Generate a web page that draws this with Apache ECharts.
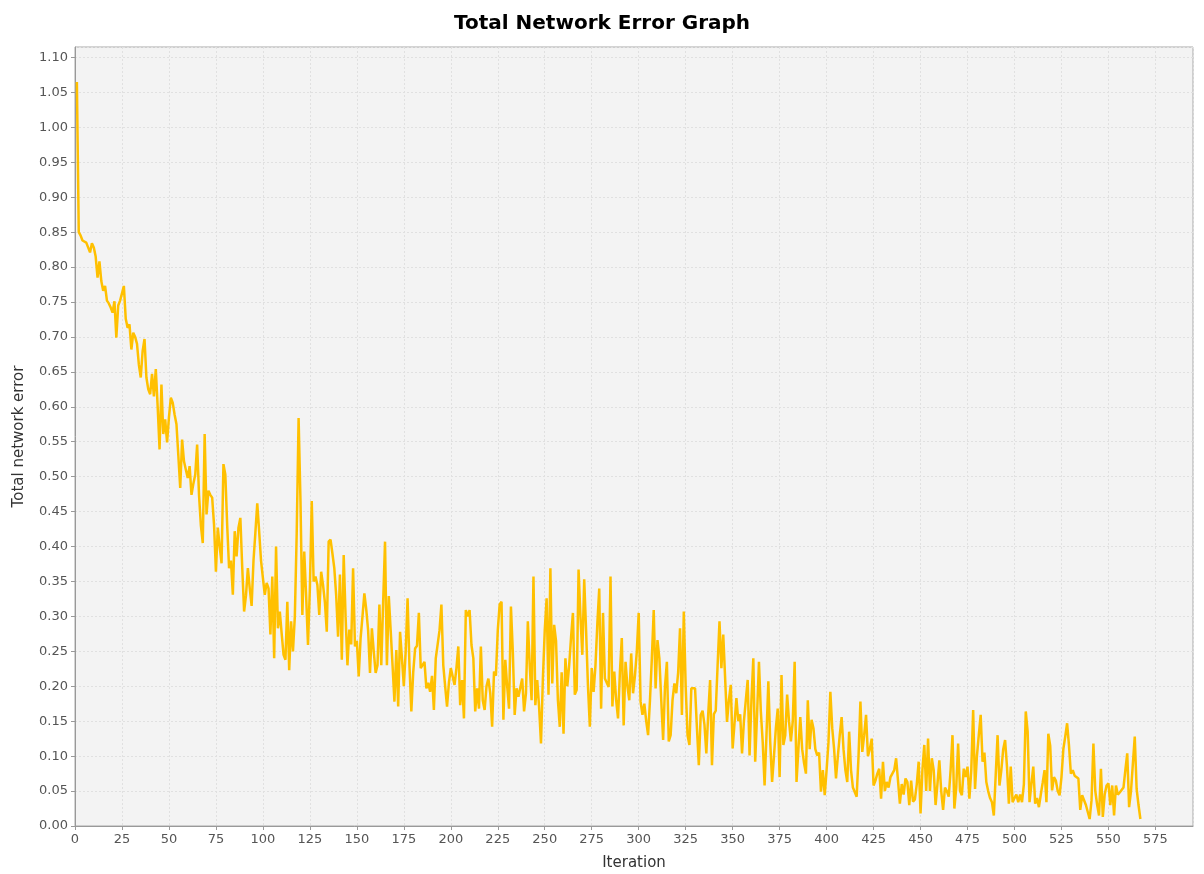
<!DOCTYPE html>
<html>
<head>
	<meta charset="UTF-8">
	<title>Total Network Error Graph</title>
	<script src="https://cdn.jsdelivr.net/npm/echarts@6/dist/echarts.min.js"></script>
	<style>
		html, body { margin: 0; padding: 0; background: #fff; }
		#chart { width: 1204px; height: 874px; }
	</style>
</head>
<body>
	<div id="chart"></div>
<script type="text/javascript">
	// total network error per iteration, starting at iteration 1
	var errors = [
		1.065, 0.850, 0.845, 0.838, 0.836, 0.835, 0.833, 0.821, 0.834, 0.828,
		0.815, 0.785, 0.808, 0.780, 0.766, 0.773, 0.752, 0.748, 0.742, 0.735,
		0.751, 0.699, 0.745, 0.752, 0.750, 0.773, 0.726, 0.713, 0.718, 0.682,
		0.706, 0.700, 0.690, 0.660, 0.642, 0.680, 0.697, 0.642, 0.625, 0.618,
		0.647, 0.615, 0.654, 0.600, 0.539, 0.632, 0.561, 0.582, 0.549, 0.585,
		0.613, 0.606, 0.589, 0.575, 0.530, 0.484, 0.553, 0.522, 0.510, 0.498,
		0.515, 0.474, 0.490, 0.503, 0.546, 0.474, 0.430, 0.405, 0.561, 0.446,
		0.480, 0.474, 0.470, 0.431, 0.364, 0.427, 0.400, 0.376, 0.518, 0.503,
		0.430, 0.369, 0.380, 0.331, 0.422, 0.386, 0.427, 0.441, 0.370, 0.307,
		0.330, 0.369, 0.340, 0.315, 0.380, 0.420, 0.462, 0.422, 0.380, 0.355,
		0.331, 0.348, 0.340, 0.274, 0.357, 0.240, 0.400, 0.283, 0.307, 0.275,
		0.245, 0.238, 0.321, 0.223, 0.293, 0.250, 0.300, 0.420, 0.584, 0.465,
		0.302, 0.393, 0.330, 0.259, 0.340, 0.465, 0.350, 0.357, 0.345, 0.302,
		0.364, 0.345, 0.320, 0.278, 0.407, 0.410, 0.390, 0.369, 0.330, 0.271,
		0.360, 0.238, 0.388, 0.300, 0.230, 0.281, 0.260, 0.369, 0.257, 0.265,
		0.214, 0.269, 0.300, 0.333, 0.310, 0.280, 0.219, 0.283, 0.250, 0.219,
		0.230, 0.317, 0.230, 0.320, 0.407, 0.230, 0.329, 0.280, 0.230, 0.178,
		0.252, 0.171, 0.278, 0.240, 0.200, 0.250, 0.326, 0.230, 0.164, 0.220,
		0.254, 0.258, 0.305, 0.226, 0.226, 0.235, 0.197, 0.205, 0.192, 0.215,
		0.166, 0.240, 0.240, 0.280, 0.317, 0.230, 0.200, 0.171, 0.205, 0.226,
		0.226, 0.202, 0.226, 0.257, 0.173, 0.209, 0.154, 0.309, 0.300, 0.309,
		0.259, 0.240, 0.164, 0.197, 0.168, 0.257, 0.180, 0.166, 0.200, 0.211,
		0.190, 0.142, 0.221, 0.215, 0.280, 0.317, 0.321, 0.152, 0.238, 0.200,
		0.168, 0.314, 0.250, 0.159, 0.197, 0.185, 0.185, 0.211, 0.164, 0.190,
		0.293, 0.230, 0.180, 0.357, 0.173, 0.209, 0.170, 0.118, 0.210, 0.280,
		0.326, 0.188, 0.369, 0.204, 0.288, 0.265, 0.180, 0.142, 0.220, 0.132,
		0.240, 0.200, 0.230, 0.270, 0.305, 0.188, 0.195, 0.367, 0.300, 0.245,
		0.353, 0.280, 0.200, 0.142, 0.226, 0.192, 0.230, 0.290, 0.340, 0.168,
		0.305, 0.211, 0.205, 0.199, 0.357, 0.171, 0.221, 0.180, 0.154, 0.220,
		0.269, 0.144, 0.235, 0.200, 0.180, 0.247, 0.190, 0.215, 0.250, 0.305,
		0.178, 0.159, 0.175, 0.150, 0.130, 0.180, 0.240, 0.309, 0.197, 0.266,
		0.240, 0.180, 0.123, 0.200, 0.235, 0.121, 0.130, 0.180, 0.204, 0.190,
		0.220, 0.283, 0.159, 0.307, 0.200, 0.130, 0.116, 0.197, 0.195, 0.197,
		0.140, 0.087, 0.159, 0.165, 0.145, 0.104, 0.160, 0.209, 0.087, 0.160,
		0.165, 0.230, 0.293, 0.226, 0.274, 0.272, 0.149, 0.180, 0.202, 0.111,
		0.110, 0.183, 0.150, 0.160, 0.104, 0.150, 0.180, 0.209, 0.101, 0.180,
		0.240, 0.092, 0.160, 0.235, 0.164, 0.120, 0.058, 0.130, 0.207, 0.120,
		0.063, 0.100, 0.140, 0.168, 0.070, 0.216, 0.116, 0.130, 0.188, 0.150,
		0.121, 0.150, 0.235, 0.063, 0.110, 0.156, 0.110, 0.090, 0.075, 0.180,
		0.110, 0.152, 0.140, 0.110, 0.101, 0.105, 0.049, 0.080, 0.044, 0.080,
		0.120, 0.192, 0.140, 0.110, 0.068, 0.100, 0.130, 0.156, 0.110, 0.080,
		0.063, 0.135, 0.080, 0.055, 0.055, 0.042, 0.100, 0.178, 0.106, 0.130,
		0.159, 0.100, 0.110, 0.125, 0.058, 0.065, 0.075, 0.082, 0.039, 0.092,
		0.050, 0.063, 0.055, 0.070, 0.075, 0.080, 0.097, 0.065, 0.032, 0.060,
		0.045, 0.068, 0.063, 0.030, 0.065, 0.035, 0.038, 0.060, 0.092, 0.018,
		0.080, 0.116, 0.050, 0.125, 0.050, 0.097, 0.080, 0.030, 0.060, 0.094,
		0.050, 0.023, 0.055, 0.050, 0.042, 0.080, 0.130, 0.025, 0.055, 0.118,
		0.050, 0.044, 0.082, 0.070, 0.085, 0.039, 0.080, 0.166, 0.053, 0.100,
		0.130, 0.159, 0.092, 0.105, 0.063, 0.050, 0.040, 0.034, 0.015, 0.073,
		0.130, 0.058, 0.080, 0.110, 0.123, 0.085, 0.032, 0.085, 0.034, 0.040,
		0.045, 0.034, 0.045, 0.034, 0.060, 0.164, 0.135, 0.034, 0.060, 0.085,
		0.032, 0.040, 0.027, 0.045, 0.062, 0.080, 0.034, 0.132, 0.115, 0.051,
		0.070, 0.065, 0.050, 0.044, 0.070, 0.110, 0.128, 0.147, 0.115, 0.075,
		0.080, 0.072, 0.070, 0.068, 0.023, 0.044, 0.044, 0.030, 0.020, 0.010,
		0.037, 0.118, 0.050, 0.030, 0.015, 0.082, 0.013, 0.045, 0.058, 0.061,
		0.030, 0.058, 0.015, 0.058, 0.045, 0.048, 0.050, 0.055, 0.080, 0.104,
		0.027, 0.050, 0.050, 0.128, 0.053, 0.030, 0.010
	];
	var firstIteration = 1;

	var points = [];
	for (var i = 0; i < errors.length; i++) {
		points.push([firstIteration + i, errors[i]]);
	}

	var labelStyle = { color: '#555', fontSize: 13, fontFamily: 'DejaVu Sans' };

	var myChart = echarts.init(document.getElementById('chart'));

	option = {
		backgroundColor: '#fff',
		animation: false,
		title: {
			text: 'Total Network Error Graph',
			left: 'center',
			top: 9,
			textStyle: { fontSize: 20, fontWeight: 'bold', color: '#000', fontFamily: 'DejaVu Sans' }
		},
		grid: {
			left: 75,
			right: 11,
			top: 47,
			bottom: 48,
			outerBoundsMode: 'none',
			containLabel: false,
			show: true,
			backgroundColor: '#f3f3f3',
			borderColor: '#a8a8a8',
			borderWidth: 1
		},
		xAxis: {
			type: 'value',
			name: 'Iteration',
			nameLocation: 'middle',
			nameGap: 30,
			nameTextStyle: { color: '#333', fontSize: 15, fontFamily: 'DejaVu Sans' },
			min: 0,
			max: 595,
			interval: 25,
			axisLine: { show: true, lineStyle: { color: '#999' } },
			axisTick: { show: true, length: 4, lineStyle: { color: '#999' } },
			axisLabel: Object.assign({ margin: 7, showMaxLabel: false }, labelStyle),
			splitLine: { show: true, lineStyle: { color: '#e0e0e0', type: [2, 2] } }
		},
		yAxis: {
			type: 'value',
			name: 'Total network error',
			nameLocation: 'middle',
			nameGap: 48,
			nameTextStyle: { color: '#333', fontSize: 15, fontFamily: 'DejaVu Sans' },
			min: 0,
			max: 1.115,
			interval: 0.05,
			axisLine: { show: true, lineStyle: { color: '#999' } },
			axisTick: { show: true, length: 4, lineStyle: { color: '#999' } },
			axisLabel: Object.assign({
				margin: 7,
				showMaxLabel: false,
				formatter: function (v) { return v.toFixed(2); }
			}, labelStyle),
			splitLine: { show: true, lineStyle: { color: '#e0e0e0', type: [2, 2] } }
		},
		series: [
			{
				name: 'Total network error',
				type: 'line',
				data: points,
				showSymbol: false,
				lineStyle: { color: '#ffc000', width: 2.5 },
				itemStyle: { color: '#ffc000' }
			}
		]
	};

	myChart.setOption(option);
</script>
</body>
</html>
